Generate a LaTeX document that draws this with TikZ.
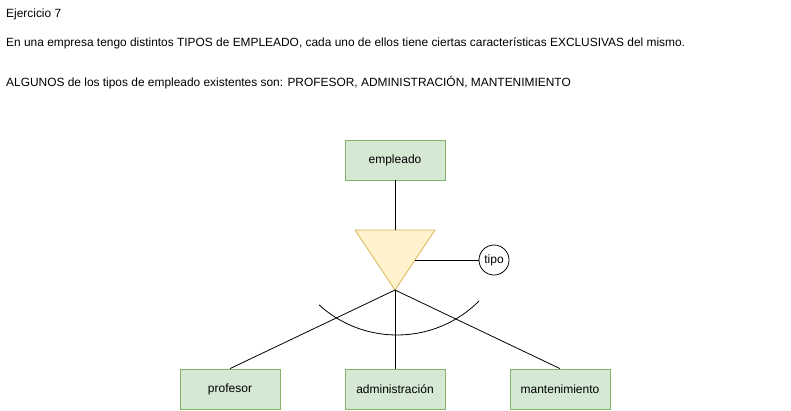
\documentclass[tikz,border=0pt]{standalone}
\usepackage{fontspec}
\setmainfont{Liberation Sans}
\definecolor{entfill}{HTML}{D5E8D4}
\definecolor{entdraw}{HTML}{82B366}
\definecolor{trifill}{HTML}{FFF2CC}
\definecolor{tridraw}{HTML}{D6B656}
\begin{document}
\begin{tikzpicture}[x=1pt,y=1pt,
  entity/.style={draw=entdraw,fill=entfill,minimum width=100pt,minimum height=40pt,inner sep=0pt,font=\fontsize{12}{14}\selectfont,line width=0.8pt},
  attr/.style={draw,circle,minimum size=30pt,inner sep=0pt,font=\fontsize{12}{14}\selectfont,line width=0.8pt},
  conn/.style={draw,line width=0.8pt},
  txt/.style={anchor=west,inner sep=0pt,font=\fontsize{11.92}{14}\selectfont}]
\useasboundingbox (0,0) rectangle (791,-410);
\fill[white] (0,0) rectangle (791,-410);
\node[txt] (t1) at (6,-14) {Ejercicio 7};
\node[txt] (t2) at (6,-43) {En una empresa tengo distintos TIPOS de EMPLEADO, cada uno de ellos tiene ciertas características EXCLUSIVAS del mismo.};
\node[txt] (t3) at (6,-83) {ALGUNOS de los tipos de empleado existentes son: PROFESOR, ADMINISTRACIÓN, MANTENIMIENTO};
\node[entity] (emp) at (395,-160) {empleado};
\node[entity] (prof) at (230,-389) {profesor};
\node[entity] (adm) at (395,-389) {administración};
\node[entity] (mant) at (560,-389) {mantenimiento};
\node[attr] (tipo) at (494,-260) {tipo};
\coordinate (tl) at (355,-230);
\coordinate (tr) at (435,-230);
\coordinate (apex) at (395,-290);
\coordinate (ttop) at (395,-230);
\coordinate (tside) at (415,-260);
\filldraw[fill=trifill,draw=tridraw,line width=0.8pt] (tl) -- (tr) -- (apex) -- cycle;
\path[conn] (emp.south) -- (ttop);
\path[conn] (tside) -- (tipo.west);
\path[conn] (apex) -- (prof.north);
\path[conn] (apex) -- (adm.north);
\path[conn] (apex) -- (mant.north);
\draw[line width=0.8pt] (397,-219) ++(227.8:116) arc[start angle=227.8,end angle=315,radius=116];
\end{tikzpicture}
\end{document}
